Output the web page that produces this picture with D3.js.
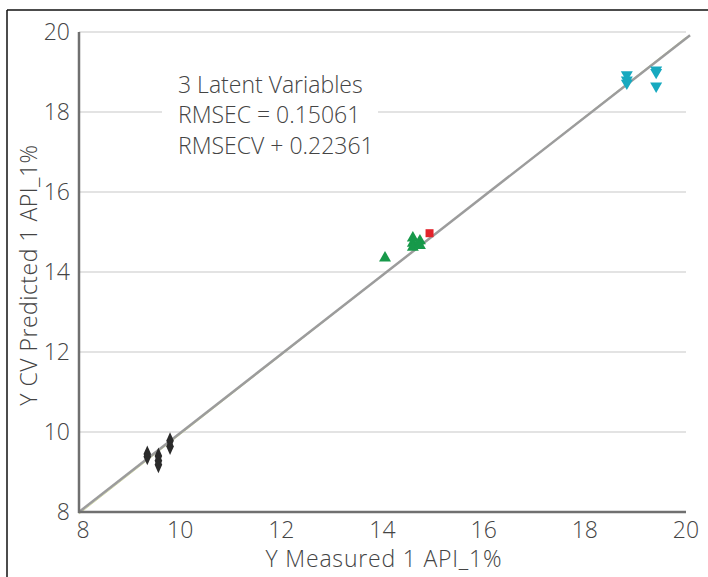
<!DOCTYPE html>
<html><head><meta charset="utf-8">
<script src="https://cdn.jsdelivr.net/npm/d3@7"></script>
<style>body{margin:0;background:#fff}svg{display:block}</style>
</head><body>
<svg id="c" width="708" height="577"></svg>
<script>
const xTicks = [8,10,12,14,16,18,20];
const yTicks = [8,10,12,14,16,18,20];
const diamondsX = [9.35, 9.35, 9.57, 9.57, 9.57, 9.8, 9.8];
const diamondsY = [9.45, 9.38, 9.4, 9.28, 9.18, 9.78, 9.64];
const upTriX = [14.05, 14.6, 14.6, 14.6, 14.74, 14.74];
const upTriY = [14.35, 14.85, 14.72, 14.62, 14.78, 14.66];
const squareX = [14.93];
const squareY = [14.97];
const downTriX = [18.83, 18.83, 18.83, 19.41, 19.41, 19.41];
const downTriY = [18.93, 18.8, 18.72, 19.05, 18.99, 18.65];
const fitLineX = [8, 20.08];
const fitLineY = [8, 19.92];
const targetLineX = [8, 20];
const targetLineY = [7.95, 19.87];
const annotation = ["3 Latent Variables", "RMSEC = 0.15061", "RMSECV + 0.22361"];
const xTitle = "Y Measured 1 API_1%";
const yTitle = "Y CV Predicted 1 API_1%";

const svg = d3.select("#c");
const x = d3.scaleLinear().domain([8,20]).range([79,686]);
const y = d3.scaleLinear().domain([8,20]).range([512,32]);
const font = "'Open Sans', 'Helvetica Neue', Arial, sans-serif";
const tc = "#444";
const fs = 23;

// frame
svg.append("line").attr("x1",7).attr("x2",7).attr("y1",10).attr("y2",577).attr("stroke","#111").attr("stroke-width",1.5);
svg.append("line").attr("x1",7).attr("x2",708).attr("y1",10).attr("y2",10).attr("stroke","#111").attr("stroke-width",1.5);

// grid
svg.append("g").selectAll("line").data(yTicks.filter(d=>d>8)).join("line")
  .attr("x1",x(8)).attr("x2",x(20)).attr("y1",d=>y(d)).attr("y2",d=>y(d))
  .attr("stroke","#dadada").attr("stroke-width",1.5);

// annotation box
svg.append("rect").attr("x",162).attr("y",66).attr("width",216).attr("height",100).attr("fill","#fff");
svg.append("g").selectAll("text").data(annotation).join("text")
  .attr("x",178).attr("y",(d,i)=>92.5+i*30.5)
  .attr("font-family",font).attr("font-weight",300).attr("font-size",fs).attr("fill",tc)
  .text(d=>d);

// lines
const ln = d3.line().x(d=>x(d[0])).y(d=>y(d[1]));
svg.append("path").attr("d",ln(targetLineX.map((v,i)=>[v,targetLineY[i]])))
  .attr("stroke","#d6dea8").attr("stroke-width",1).attr("fill","none");
svg.append("path").attr("d",ln(fitLineX.map((v,i)=>[v,fitLineY[i]])))
  .attr("stroke","#9c9c9c").attr("stroke-width",2.5).attr("fill","none");

// axes
svg.append("line").attr("x1",x(8)).attr("x2",x(8)).attr("y1",y(20)).attr("y2",y(8)+1).attr("stroke","#707070").attr("stroke-width",2.5);
svg.append("line").attr("x1",x(8)-1).attr("x2",x(20)).attr("y1",y(8)).attr("y2",y(8)).attr("stroke","#707070").attr("stroke-width",2.5);

svg.append("g").selectAll("text").data(yTicks).join("text")
  .attr("x",70).attr("y",d=>y(d)+7.5).attr("text-anchor","end")
  .attr("font-family",font).attr("font-weight",300).attr("font-size",fs).attr("fill",tc).text(d=>d);
svg.append("g").selectAll("text").data(xTicks).join("text")
  .attr("x",d=>x(d)+(d===8?4:0)).attr("y",538).attr("text-anchor","middle")
  .attr("font-family",font).attr("font-weight",300).attr("font-size",fs).attr("fill",tc).text(d=>d);

svg.append("text").attr("x",384).attr("y",567).attr("text-anchor","middle")
  .attr("font-family",font).attr("font-weight",300).attr("font-size",fs).attr("letter-spacing",0.8).attr("fill",tc).text(xTitle);
svg.append("text").attr("transform","translate(37,275) rotate(-90)").attr("text-anchor","middle")
  .attr("font-family",font).attr("font-weight",300).attr("font-size",fs).attr("letter-spacing",0.5).attr("fill",tc).text(yTitle);

// markers
const dia = d3.symbol().type(d3.symbolDiamond).size(50);
svg.append("g").selectAll("path").data(diamondsX.map((v,i)=>[v,diamondsY[i]])).join("path")
  .attr("d",dia).attr("transform",d=>`translate(${x(d[0])},${y(d[1])}) scale(1,1.3)`).attr("fill","#2b2b2b");
const tri = d3.symbol().type(d3.symbolTriangle).size(62);
svg.append("g").selectAll("path").data(upTriX.map((v,i)=>[v,upTriY[i]])).join("path")
  .attr("d",tri).attr("transform",d=>`translate(${x(d[0])},${y(d[1])})`).attr("fill","#17994a");
svg.append("g").selectAll("rect").data(squareX.map((v,i)=>[v,squareY[i]])).join("rect")
  .attr("x",d=>x(d[0])-4).attr("y",d=>y(d[1])-4).attr("width",8).attr("height",8).attr("fill","#e3232b");
svg.append("g").selectAll("path").data(downTriX.map((v,i)=>[v,downTriY[i]])).join("path")
  .attr("d",tri).attr("transform",d=>`translate(${x(d[0])},${y(d[1])}) rotate(180)`).attr("fill","#17a9bf");
</script>
</body></html>
